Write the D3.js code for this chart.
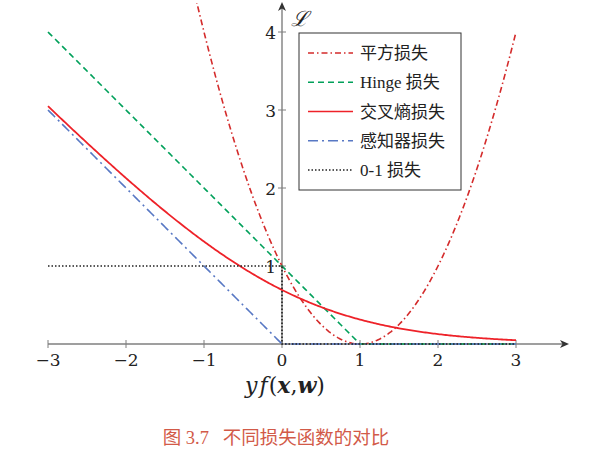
<!DOCTYPE html>
<html><head><meta charset="utf-8">
<script src="https://cdn.jsdelivr.net/npm/d3@7"></script>
<style>body{margin:0;background:#fff}svg{display:block}</style>
</head><body>
<svg id="c" width="600" height="456"></svg>
<script>
const xTicks = [-3,-2,-1,0,1,2,3];
const yTicks = [1,2,3,4];
const seriesNames = ["平方损失","Hinge 损失","交叉熵损失","感知器损失","0-1 损失"];
const seriesColors = ["#d42b2b","#00a05a","#ee2229","#5878c4","#222222"];
const seriesDash = ["6,3,1.5,3","6,4","none","10,4,2,4","1.5,2"];
const sampleX = d3.range(-3, 3.0001, 0.02);
// loss functions of margin z
const lossFns = [
  z => (1 - z) * (1 - z),
  z => Math.max(0, 1 - z),
  z => Math.log(1 + Math.exp(-z)),
  z => Math.max(0, -z),
  z => (z < 0 ? 1 : 0)
];
const zeroOneX = [-3, 0, 0, 3];
const zeroOneY = [1, 1, 0, 0];

const svg = d3.select("#c");
const x = d3.scaleLinear().domain([-3,3]).range([48,516]);
const y = d3.scaleLinear().domain([0,4]).range([344,32]);
const yMax = y.invert(3);

svg.append("defs").append("clipPath").attr("id","clip")
  .append("rect").attr("x",0).attr("y",3).attr("width",600).attr("height",360);

const axisCol = "#7f7f7f";
// x axis
svg.append("line").attr("x1",x(-3)).attr("x2",565).attr("y1",y(0)).attr("y2",y(0))
  .attr("stroke",axisCol).attr("stroke-width",1.4);
svg.append("path").attr("d",`M569,${y(0)} L560,${y(0)-4} L562.5,${y(0)} L560,${y(0)+4} Z`).attr("fill","#333");
// y axis
svg.append("line").attr("x1",x(0)).attr("x2",x(0)).attr("y1",y(0)).attr("y2",6)
  .attr("stroke",axisCol).attr("stroke-width",1.4);
svg.append("path").attr("d",`M${x(0)},2 L${x(0)-4},11 L${x(0)},8.5 L${x(0)+4},11 Z`).attr("fill","#333");

const tickFont = "'DejaVu Serif','Liberation Serif',serif";
svg.selectAll(".xt").data(xTicks).enter().append("line")
  .attr("x1",d=>x(d)).attr("x2",d=>x(d)).attr("y1",y(0)-4).attr("y2",y(0)+4)
  .attr("stroke",axisCol).attr("stroke-width",1);
svg.selectAll(".xl").data(xTicks).enter().append("text")
  .attr("x",d=>x(d)).attr("y",y(0)+22).attr("text-anchor","middle")
  .attr("font-family",tickFont).attr("font-size",17).attr("fill","#222")
  .text(d=>d<0?"−"+Math.abs(d):d);
svg.selectAll(".yt").data(yTicks).enter().append("line")
  .attr("x1",x(0)-4).attr("x2",x(0)+4).attr("y1",d=>y(d)).attr("y2",d=>y(d))
  .attr("stroke",axisCol).attr("stroke-width",1);

const g = svg.append("g").attr("clip-path","url(#clip)");
const line = d3.line().x(d=>x(d[0])).y(d=>y(d[1]));
for (let i = 0; i < 4; i++) {
  const pts = sampleX.map(z => [z, lossFns[i](z)]).filter(p => p[1] <= yMax + 0.3);
  g.append("path").attr("d", line(pts)).attr("fill","none")
    .attr("stroke", seriesColors[i]).attr("stroke-width", i===2?1.8:1.6)
    .attr("stroke-dasharray", seriesDash[i]==="none"?null:seriesDash[i]);
}
// 0-1 loss
g.append("path").attr("d", line(zeroOneX.map((v,i)=>[v, zeroOneY[i]]))).attr("fill","none")
  .attr("stroke", seriesColors[4]).attr("stroke-width",1.6).attr("stroke-dasharray",seriesDash[4]);

svg.selectAll(".yl").data(yTicks).enter().append("text")
  .attr("x",x(0)-6).attr("y",d=>y(d)+7).attr("text-anchor","end")
  .attr("font-family",tickFont).attr("font-size",17).attr("fill","#222")
  .text(d=>d);

// y label
svg.append("text").attr("x",x(0)+9).attr("y",26).attr("font-family","'DejaVu Serif',serif")
  .attr("font-style","italic").attr("font-size",21).attr("fill","#222").text("ℒ");

// legend
const lg = svg.append("g");
lg.append("rect").attr("x",299).attr("y",33).attr("width",162).attr("height",157)
  .attr("fill","#fff").attr("stroke","#333").attr("stroke-width",1);
const rowY = d3.scaleLinear().domain([0,4]).range([53,170]);
seriesNames.forEach((n,i)=>{
  lg.append("line").attr("x1",308).attr("x2",353).attr("y1",rowY(i)).attr("y2",rowY(i))
    .attr("stroke",seriesColors[i]).attr("stroke-width",1.6)
    .attr("stroke-dasharray",seriesDash[i]==="none"?null:seriesDash[i]);
  lg.append("text").attr("x",360).attr("y",rowY(i)+6)
    .attr("font-family","'Liberation Serif','Noto Sans CJK SC',serif").attr("font-size",17).attr("fill","#222").text(n);
});

// x label
const xl = svg.append("text").attr("x",285).attr("y",393).attr("text-anchor","middle")
  .attr("font-family","'DejaVu Serif',serif").attr("font-size",22).attr("fill","#222");
xl.append("tspan").attr("font-style","italic").text("y");
xl.append("tspan").attr("font-style","italic").attr("dx",2).text("f");
xl.append("tspan").attr("dx",1).text("(");
xl.append("tspan").attr("font-style","italic").attr("font-weight","bold").text("x");
xl.append("tspan").text(",");
xl.append("tspan").attr("font-style","italic").attr("font-weight","bold").text("w");
xl.append("tspan").text(")");

// caption
svg.append("text").attr("x",276).attr("y",444).attr("text-anchor","middle")
  .attr("font-family","'Liberation Serif','Noto Sans CJK SC',serif").attr("font-size",18.5)
  .attr("fill","#d25a48").attr("xml:space","preserve").text("图 3.7   不同损失函数的对比");
</script>
</body></html>
